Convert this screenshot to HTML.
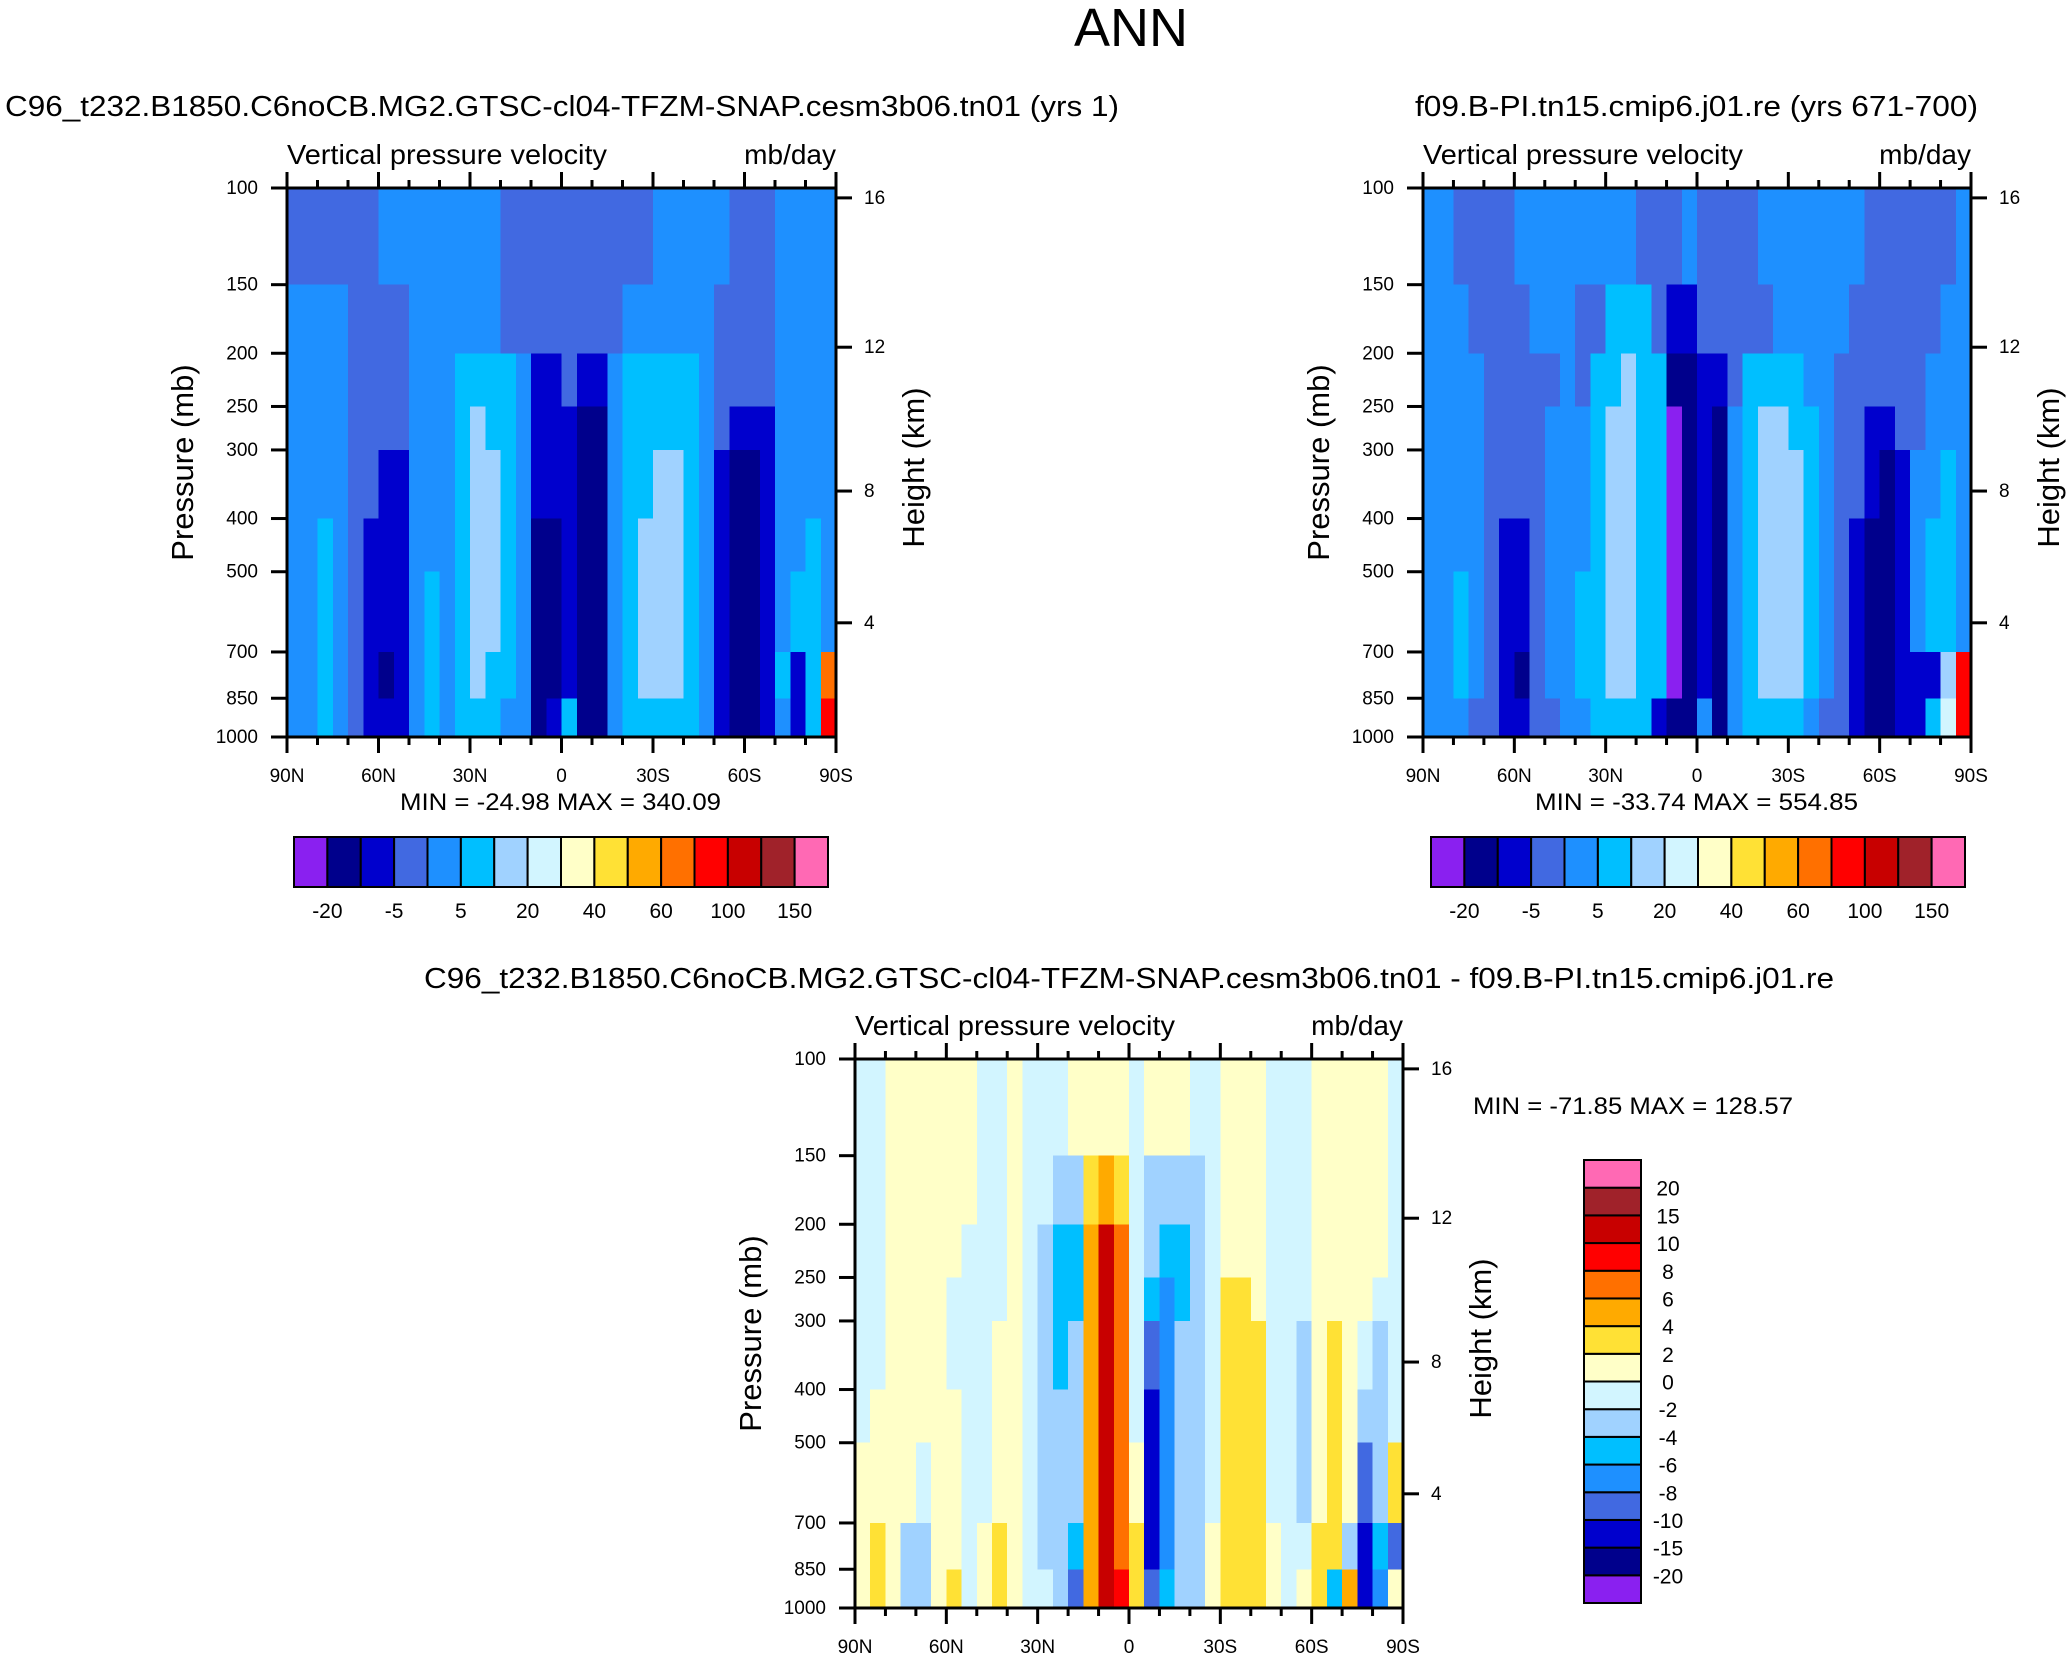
<!DOCTYPE html>
<html><head><meta charset="utf-8">
<style>
html,body{margin:0;padding:0;background:#fff;}
svg{display:block;font-family:"Liberation Sans",Arial,sans-serif;}
</style></head>
<body>
<svg id="fig" width="2072" height="1660" viewBox="0 0 2072 1660" xmlns="http://www.w3.org/2000/svg">
<text x="1131" y="46" font-size="54" text-anchor="middle">ANN</text>
<text x="5" y="116" font-size="29" textLength="1114" lengthAdjust="spacingAndGlyphs">C96_t232.B1850.C6noCB.MG2.GTSC-cl04-TFZM-SNAP.cesm3b06.tn01 (yrs 1)</text>
<text x="1415" y="116" font-size="29" textLength="563" lengthAdjust="spacingAndGlyphs">f09.B-PI.tn15.cmip6.j01.re (yrs 671-700)</text>
<text x="424" y="988" font-size="29" textLength="1410" lengthAdjust="spacingAndGlyphs">C96_t232.B1850.C6noCB.MG2.GTSC-cl04-TFZM-SNAP.cesm3b06.tn01 - f09.B-PI.tn15.cmip6.j01.re</text>
<g id="p1"></g>
<g id="p2"></g>
<g id="p3"></g>
<text x="400" y="810" font-size="24" textLength="321" lengthAdjust="spacingAndGlyphs">MIN = -24.98  MAX = 340.09</text>
<text x="1535" y="810" font-size="24" textLength="323" lengthAdjust="spacingAndGlyphs">MIN = -33.74  MAX = 554.85</text>
<text x="1473" y="1114" font-size="24" textLength="320" lengthAdjust="spacingAndGlyphs">MIN = -71.85  MAX = 128.57</text>
<g id="cb1"></g>
<g id="cb2"></g>
<g id="cb3"></g>
</svg>
<script>
// ---- data ----
const latEdges = [90,85,80,75,70,65,60,55,50,45,40,35,30,25,20,15,10,5,0,-5,-10,-15,-20,-25,-30,-35,-40,-45,-50,-55,-60,-65,-70,-75,-80,-85,-90];
const presEdges = [100,150,200,250,300,400,500,700,850,1000];
const presTicks = [100,150,200,250,300,400,500,700,850,1000];
const latTickVals = [90,60,30,0,-30,-60,-90];
const latTickLabels = ["90N","60N","30N","0","30S","60S","90S"];
const heightTickLabels = ["16","12","8","4"];
const heightTickFrac = [0.018,0.29,0.552,0.792];

const levelsAbs = [-20,-10,-5,0,5,10,20,30,40,50,60,80,100,120,150];
const levelsAbsLabels = ["-20","","-5","","5","","20","","40","","60","","100","","150"];
const levelsDiff = [-20,-15,-10,-8,-6,-4,-2,0,2,4,6,8,10,15,20];
const levelsDiffLabels = ["-20","-15","-10","-8","-6","-4","-2","0","2","4","6","8","10","15","20"];
const palette = ["#8a20f0","#00008c","#0000cd","#4169e1","#1e90ff","#00bfff","#a0d2ff","#d2f5ff","#ffffc8","#ffe135","#ffaa00","#ff7000","#ff0000","#c80000","#a0222a","#ff69b4"];

const model1 = [
[-2,-2,-2,-2,-2,-2,2,2,2,2,2,2,2,2,-2,-2,-2,-2,-2,-2,-2,-2,-2,-2,2,2,2,2,2,-2,-2,-2,2,2,2,2],
[2,2,2,2,-2,-2,-2,-2,2,2,2,2,2,2,-2,-2,-2,-2,-2,-2,-2,-2,2,2,2,2,2,2,-2,-2,-2,-2,2,2,2,2],
[2,2,2,2,-2,-2,-2,-2,2,2,2,7,7,7,7,2,-7,-7,-2,-7,-7,2,7,7,7,7,7,2,-2,-2,-2,-2,2,2,2,2],
[2,2,2,2,-2,-2,-2,-2,2,2,2,7,15,7,7,2,-7,-7,-7,-12,-12,2,7,7,7,7,7,2,-2,-7,-7,-7,2,2,2,2],
[2,2,2,2,-2,-2,-7,-7,2,2,2,7,15,15,7,2,-7,-7,-7,-12,-12,2,7,7,15,15,7,2,-7,-12,-12,-7,2,2,2,2],
[2,2,7,2,-2,-7,-7,-7,2,2,2,7,15,15,7,2,-12,-12,-7,-12,-12,2,7,15,15,15,7,2,-7,-12,-12,-7,2,2,7,2],
[2,2,7,2,-2,-7,-7,-7,2,7,2,7,15,15,7,2,-12,-12,-7,-12,-12,2,7,15,15,15,7,2,-7,-12,-12,-7,2,7,7,2],
[2,2,7,2,-2,-7,-12,-7,2,7,2,7,15,7,7,2,-12,-12,-7,-12,-12,2,7,15,15,15,7,2,-7,-12,-12,-7,7,-7,7,60],
[2,2,7,2,-2,-7,-7,-7,2,7,2,7,7,7,2,2,-12,-7,7,-12,-12,2,7,7,7,7,7,2,-7,-12,-12,-7,2,-7,7,80]
];
const model2 = [
[2,2,-2,-2,-2,-2,2,2,2,2,2,2,2,2,-2,-2,-2,2,-2,-2,-2,-2,2,2,2,2,2,2,2,-2,-2,-2,-2,-2,-2,2],
[2,2,2,-2,-2,-2,-2,2,2,2,-2,-2,7,7,7,-2,-7,-7,-2,-2,-2,-2,-2,2,2,2,2,2,-2,-2,-2,-2,-2,-2,2,2],
[2,2,2,2,-2,-2,-2,-2,-2,2,-2,7,7,15,7,7,-12,-12,-7,-7,-2,7,7,7,7,2,2,-2,-2,-2,-2,-2,-2,2,2,2],
[2,2,2,2,-2,-2,-2,-2,2,2,2,7,15,15,7,7,-22,-12,-7,-12,2,7,15,15,7,7,2,-2,-2,-7,-7,-2,-2,2,2,2],
[2,2,2,2,-2,-2,-2,-2,2,2,2,7,15,15,7,7,-22,-12,-7,-12,2,7,15,15,15,7,2,-2,-2,-7,-12,-7,2,2,7,2],
[2,2,2,2,-2,-7,-7,-2,2,2,2,7,15,15,7,7,-22,-12,-7,-12,2,7,15,15,15,7,2,-2,-7,-12,-12,-7,2,7,7,2],
[2,2,7,2,-2,-7,-7,-2,2,2,7,7,15,15,7,7,-22,-12,-7,-12,2,7,15,15,15,7,2,-2,-7,-12,-12,-7,2,7,7,2],
[2,2,7,2,-2,-7,-12,-2,2,2,7,7,15,15,7,7,-22,-12,-7,-12,2,7,15,15,15,7,2,-2,-7,-12,-12,-7,-7,-7,15,80],
[2,2,2,-2,-2,-7,-7,-2,-2,2,2,7,7,7,7,-7,-12,-12,2,-12,2,7,7,7,7,2,-2,-2,-7,-12,-12,-7,-7,7,20,80]
];
const diff = [
[-1,-1,1,1,1,1,1,1,-1,-1,1,-1,-1,-1,1,1,1,1,-1,1,1,1,-1,-1,1,1,1,-1,-1,-1,1,1,1,1,1,-1],
[-1,-1,1,1,1,1,1,1,-1,-1,1,-1,-1,-3,-3,3,4,3,-1,-3,-3,-3,-3,-1,1,1,1,-1,-1,-1,1,1,1,1,1,-1],
[-1,-1,1,1,1,1,1,-1,-1,-1,1,-1,-3,-5,-5,5,12,6,-1,-3,-5,-5,-3,-1,1,1,1,-1,-1,-1,1,1,1,1,1,-1],
[-1,-1,1,1,1,1,-1,-1,-1,-1,1,-1,-3,-5,-5,5,12,6,-1,-5,-7,-5,-3,-1,3,3,1,-1,-1,-1,1,1,1,1,-1,-1],
[-1,-1,1,1,1,1,-1,-1,-1,1,1,-1,-3,-5,-3,5,12,6,-1,-9,-7,-3,-3,-1,3,3,3,-1,-1,-3,1,3,1,-1,-3,-1],
[-1,1,1,1,1,1,1,-1,-1,1,1,-1,-3,-3,-3,5,12,6,-1,-12,-7,-3,-3,-1,3,3,3,-1,-1,-3,1,3,1,-3,-3,-1],
[1,1,1,1,-1,1,1,-1,-1,1,1,-1,-3,-3,-3,5,12,6,1,-12,-7,-3,-3,-1,3,3,3,-1,-1,-3,1,3,1,-9,-3,3],
[1,3,1,-3,-3,1,1,-1,1,3,1,-1,-3,-3,-5,5,12,6,3,-12,-7,-3,-3,1,3,3,3,1,-1,-1,3,3,-3,-12,-5,-9],
[1,3,1,-3,-3,1,3,-1,1,3,1,-1,-1,-3,-9,5,12,9,3,-9,-5,-3,-3,1,3,3,3,1,-1,1,3,-5,5,-12,-7,1]
];

// ---- drawing ----
const NS = "http://www.w3.org/2000/svg";
function mk(parent, tag, attrs, txt) {
  const e = document.createElementNS(NS, tag);
  for (const k in attrs) e.setAttribute(k, attrs[k]);
  if (txt !== undefined) e.textContent = txt;
  parent.appendChild(e);
  return e;
}
function colorFor(v, levels) {
  let i = 0;
  while (i < levels.length && v >= levels[i]) i++;
  return palette[i];
}
function drawPanel(g, x0, y0, W, H, data, levels) {
  const xS = lat => x0 + (90 - lat) / 180 * W;
  const yS = p => y0 + (Math.log10(p) - 2) * H;
  const cells = mk(g, "g", {"shape-rendering": "crispEdges"});
  
  
  for (let r = 0; r < data.length; r++) {
    for (let c = 0; c < data[r].length; c++) {
      const xa = xS(latEdges[c]), xb = xS(latEdges[c + 1]);
      const ya = yS(presEdges[r]), yb = yS(presEdges[r + 1]);
      const rect = mk(cells, "rect", {x: xa, y: ya, width: xb - xa + 0.6, height: yb - ya + 0.6, fill: colorFor(data[r][c], levels)});
      
      
    }
  }
  const frame = mk(g, "rect", {x: x0, y: y0, width: W, height: H, fill: "none", stroke: "#000", "stroke-width": 3});
  
  
  for (let lat = 90; lat >= -90; lat -= 10) {
    const x = xS(lat);
    const major = lat % 30 === 0;
    const len = major ? 16 : 8;
    const t1 = mk(g, "line", {x1: x, x2: x, y1: y0 + H, y2: y0 + H + len, stroke: "#000", "stroke-width": 3});
    
    
    const t2 = mk(g, "line", {x1: x, x2: x, y1: y0, y2: y0 - len, stroke: "#000", "stroke-width": 3});
    
    
  }
  latTickVals.forEach((lat, i) => {
    const t = mk(g, "text", {x: xS(lat), y: y0 + H + 45, "font-size": 19, "text-anchor": "middle"}, latTickLabels[i]);
    
    
  });
  presTicks.forEach(p => {
    const y = yS(p);
    const tk = mk(g, "line", {x1: x0 - 16, x2: x0, y1: y, y2: y, stroke: "#000", "stroke-width": 3});
    
    
    const t = mk(g, "text", {x: x0 - 29, y: y + 6, "font-size": 19, "text-anchor": "end"}, String(p));
    
    
  });
  heightTickFrac.forEach((f, i) => {
    const y = y0 + f * H;
    const tk = mk(g, "line", {x1: x0 + W, x2: x0 + W + 16, y1: y, y2: y, stroke: "#000", "stroke-width": 3});
    
    
    const t = mk(g, "text", {x: x0 + W + 28, y: y + 6, "font-size": 19}, heightTickLabels[i]);
    
    
  });
  const lt = mk(g, "text", {x: x0, y: y0 - 24, "font-size": 28, textLength: 320, lengthAdjust: "spacingAndGlyphs"}, "Vertical pressure velocity");
  
  
  const ut = mk(g, "text", {x: x0 + W, y: y0 - 24, "font-size": 28, "text-anchor": "end"}, "mb/day");
  
  
  const yl = mk(g, "text", {x: x0 - 104, y: y0 + H / 2, "font-size": 31, "text-anchor": "middle", transform: `rotate(-90 ${x0 - 104} ${y0 + H / 2})`, dy: 10}, "Pressure (mb)");
  
  
  const hl = mk(g, "text", {x: x0 + W + 78, y: y0 + H / 2 + 5, "font-size": 31, "text-anchor": "middle", transform: `rotate(-90 ${x0 + W + 78} ${y0 + H / 2 + 5})`, dy: 10}, "Height (km)");
  
  
}
function drawHBar(g, x0, y0, W, H, labels) {
  const n = palette.length, w = W / n;
  for (let i = 0; i < n; i++) {
    const r = mk(g, "rect", {x: x0 + i * w, y: y0, width: w, height: H, fill: palette[i], stroke: "#000", "stroke-width": 2});
    
    
  }
  labels.forEach((l, i) => {
    if (!l) return;
    const t = mk(g, "text", {x: x0 + (i + 1) * w, y: y0 + H + 31, "font-size": 21, "text-anchor": "middle"}, l);
    
    
  });
}
function drawVBar(g, x0, y0, W, H, labels) {
  const n = palette.length, h = H / n;
  for (let i = 0; i < n; i++) {
    const r = mk(g, "rect", {x: x0, y: y0 + (n - 1 - i) * h, width: W, height: h, fill: palette[i], stroke: "#000", "stroke-width": 2});
    
    
  }
  labels.forEach((l, i) => {
    const t = mk(g, "text", {x: x0 + W + 27, y: y0 + (n - 1 - i) * h + 8, "font-size": 21, "text-anchor": "middle"}, l);
    
    
  });
}
drawPanel(document.getElementById("p1"), 287, 188, 549, 549, model1, levelsAbs);
drawPanel(document.getElementById("p2"), 1423, 188, 548, 549, model2, levelsAbs);
drawPanel(document.getElementById("p3"), 855, 1059, 548, 549, diff, levelsDiff);
drawHBar(document.getElementById("cb1"), 294, 837, 534, 50, levelsAbsLabels);
drawHBar(document.getElementById("cb2"), 1431, 837, 534, 50, levelsAbsLabels);
drawVBar(document.getElementById("cb3"), 1584, 1160, 57, 443, levelsDiffLabels);
</script>
</body></html>
